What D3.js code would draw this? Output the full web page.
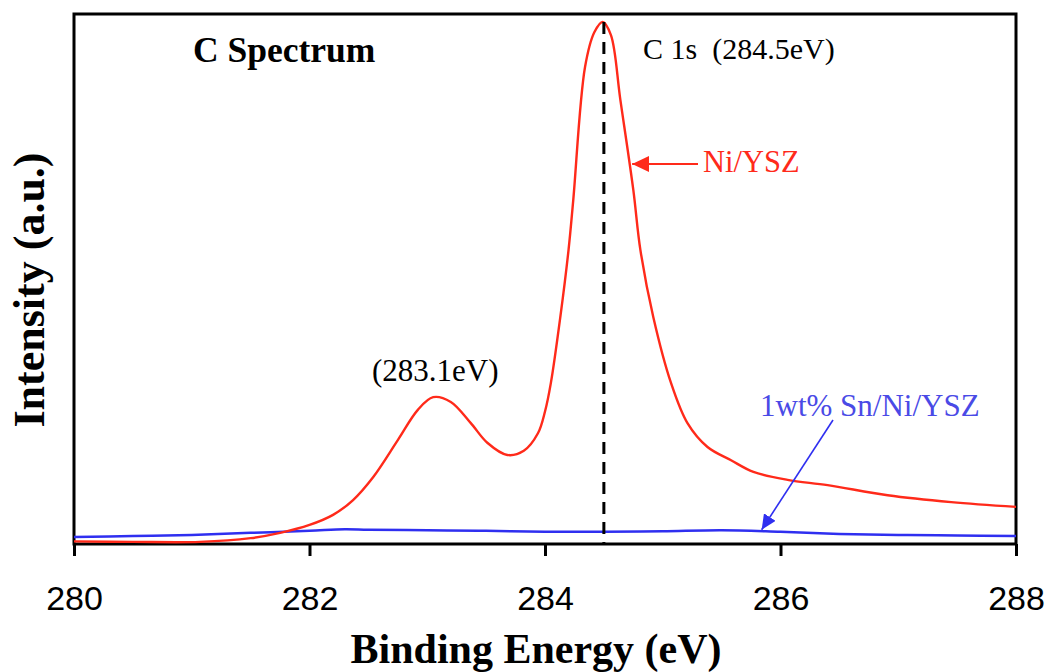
<!DOCTYPE html>
<html>
<head>
<meta charset="utf-8">
<script src="https://cdn.jsdelivr.net/npm/d3@7"></script>
<style>
	body { margin: 0; background: #fff; }
	svg { display: block; }
</style>
</head>
<body>
<svg id="chart" width="1048" height="672"></svg>
<script>
// values (binding energy in eV, intensity in arbitrary units)
let niEnergy = [280.0, 280.5, 281.07, 281.5, 281.75, 282.0, 282.2, 282.37, 282.54, 282.75, 282.92, 283.05, 283.2, 283.37, 283.51, 283.68, 283.82, 283.94, 284.0, 284.05, 284.13, 284.2, 284.24, 284.34, 284.42, 284.49, 284.56, 284.64, 284.75, 284.81, 284.92, 285.07, 285.21, 285.38, 285.58, 285.77, 286.06, 286.4, 286.91, 287.45, 288.0];
let niIntensity = [0.5, 0.4, 0.4, 1.1, 2.1, 3.6, 5.5, 8.3, 12.6, 19.6, 25.3, 27.7, 26.8, 22.8, 19.1, 16.8, 17.6, 20.9, 25.0, 30.4, 42.8, 55.5, 64.9, 90, 96.6, 98.5, 96, 83.8, 66.8, 55.5, 42.8, 30.4, 22.8, 18.3, 15.8, 13.6, 12.1, 11.1, 9.2, 7.9, 7.0];

let snEnergy = [280.0, 280.5, 281.0, 281.5, 282.0, 282.3, 282.5, 283.0, 283.5, 284.0, 284.5, 285.0, 285.5, 286.0, 286.5, 287.0, 287.5, 288.0];
let snIntensity = [1.3, 1.5, 1.7, 2.1, 2.5, 2.8, 2.7, 2.6, 2.5, 2.3, 2.3, 2.4, 2.6, 2.3, 1.9, 1.7, 1.6, 1.5];

let xTicks = [280, 282, 284, 286, 288];
let peakEnergy = 284.5;

let margin = {"left": 74, "top": 14, "right": 32, "bottom": 128};
let width = 1048;
let height = 672;

let svg = d3.select("#chart");

let scaleX = d3.scaleLinear()
	.domain([280, 288])
	.range([margin.left, width - margin.right]);

let scaleY = d3.scaleLinear()
	.domain([0, 100])
	.range([height - margin.bottom, margin.top]);

let defs = svg.append("defs");
[["headRed", "#ff2a1a", 17, 16], ["headBlue", "#2f2ff0", 15, 14]].forEach(function(m){
	defs.append("marker")
		.attr("id", m[0])
		.attr("viewBox", "0 0 10 10")
		.attr("refX", 10).attr("refY", 5)
		.attr("markerWidth", m[2]).attr("markerHeight", m[3])
		.attr("markerUnits", "userSpaceOnUse")
		.attr("orient", "auto")
		.attr("preserveAspectRatio", "none")
		.append("path")
		.attr("d", "M0,0 L10,5 L0,10 Z")
		.attr("fill", m[1]);
});

// frame
svg.append("rect")
	.attr("x", scaleX.range()[0])
	.attr("y", scaleY.range()[1])
	.attr("width", scaleX.range()[1] - scaleX.range()[0])
	.attr("height", scaleY.range()[0] - scaleY.range()[1])
	.attr("fill", "none")
	.attr("stroke", "#000")
	.attr("stroke-width", 3);

// x axis
let axisX = svg.append("g")
	.attr("transform", "translate(0," + scaleY.range()[0] + ")")
	.call(d3.axisBottom(scaleX).tickValues(xTicks).tickSize(12).tickPadding(30).tickFormat(d3.format("d")));
axisX.select(".domain").remove();
axisX.selectAll("line").attr("stroke", "#000").attr("stroke-width", 3);
axisX.selectAll("text")
	.attr("font-family", "Liberation Sans, Arial, sans-serif")
	.attr("font-size", 34)
	.attr("fill", "#000");

let line = d3.line()
	.x(d => scaleX(d[0]))
	.y(d => scaleY(d[1]))
	.curve(d3.curveCatmullRom.alpha(0.5));

svg.append("path")
	.datum(snEnergy.map((e, i) => [e, snIntensity[i]]))
	.attr("d", line)
	.attr("fill", "none")
	.attr("stroke", "#2f2ff0")
	.attr("stroke-width", 2.5);

svg.append("path")
	.datum(niEnergy.map((e, i) => [e, niIntensity[i]]))
	.attr("d", line)
	.attr("fill", "none")
	.attr("stroke", "#ff2a1a")
	.attr("stroke-width", 2.4);

// dashed peak marker
svg.append("line")
	.attr("x1", scaleX(peakEnergy)).attr("x2", scaleX(peakEnergy))
	.attr("y1", scaleY(98.5)).attr("y2", scaleY(0))
	.attr("stroke", "#000")
	.attr("stroke-width", 3)
	.attr("stroke-dasharray", "12,8");

// arrows
svg.append("line")
	.attr("x1", 698).attr("y1", 164)
	.attr("x2", scaleX(284.74)).attr("y2", 164)
	.attr("stroke", "#ff2a1a").attr("stroke-width", 2)
	.attr("marker-end", "url(#headRed)");

svg.append("line")
	.attr("x1", 833).attr("y1", 420)
	.attr("x2", scaleX(285.84)).attr("y2", scaleY(2.7))
	.attr("stroke", "#2f2ff0").attr("stroke-width", 1.6)
	.attr("marker-end", "url(#headBlue)");

let serif = "Liberation Serif, Times New Roman, serif";

function label(x, y, txt, opts){
	let t = svg.append("text")
		.attr("x", x).attr("y", y)
		.attr("font-family", serif)
		.attr("font-size", opts.size || 31)
		.attr("font-weight", opts.bold ? "bold" : "normal")
		.attr("fill", opts.fill || "#000")
		.attr("text-anchor", opts.anchor || "start")
		.style("white-space", "pre")
		.text(txt);
	if (opts.rotate) t.attr("transform", "rotate(-90," + x + "," + y + ")");
	return t;
}

label(193, 62, "C Spectrum", {size: 35.5, bold: true});
label(643, 59, "C 1s  (284.5eV)", {size: 30});
label(703, 172, "Ni/YSZ", {size: 30.5, fill: "#ff2a1a"});
label(372, 381, "(283.1eV)", {size: 31});
label(760, 416, "1wt% Sn/Ni/YSZ", {size: 31, fill: "#4a4ae6"});

label(536, 663, "Binding Energy (eV)", {size: 42, bold: true, anchor: "middle"});
label(44, 290, "Intensity (a.u.)", {size: 44, bold: true, anchor: "middle", rotate: true});
</script>
</body>
</html>
